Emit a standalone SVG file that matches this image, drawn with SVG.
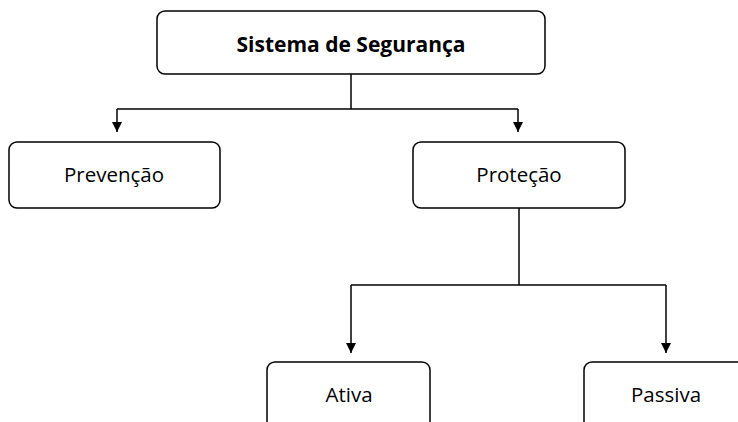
<svg xmlns="http://www.w3.org/2000/svg" width="738" height="422" viewBox="0 0 738 422">
<style>
.box{fill:#fff;stroke:#000;stroke-width:1.5}
.lbl{font-family:"Open Sans","Liberation Sans",sans-serif;font-size:20.5px;fill:#000;text-anchor:middle}
.b{font-weight:bold;font-size:21px}
.con{fill:none;stroke:#000;stroke-width:1.5}
</style>
<defs>
<marker id="arr" markerWidth="10" markerHeight="10" refX="10" refY="5" orient="auto" markerUnits="userSpaceOnUse" viewBox="0 0 10 10">
<path d="M0,0 L10,5 L0,10 Z" fill="#000"/>
</marker>
</defs>
<g id="connectors">
<path class="con" d="M351,74 V109"/>
<path class="con" d="M117,109 H518"/>
<path class="con" d="M117,109 V132" marker-end="url(#arr)"/>
<path class="con" d="M518,109 V132" marker-end="url(#arr)"/>
<path class="con" d="M519,208 V285"/>
<path class="con" d="M351,285 H666"/>
<path class="con" d="M351,285 V353" marker-end="url(#arr)"/>
<path class="con" d="M666,285 V353" marker-end="url(#arr)"/>
</g>
<g id="sistema">
<rect class="box" x="157" y="11" width="388" height="63" rx="8"/>
<text class="lbl b" x="351" y="52">Sistema de Segurança</text>
</g>
<g id="prevencao">
<rect class="box" x="9" y="142" width="211" height="66" rx="8"/>
<text class="lbl" x="114" y="182">Prevenção</text>
</g>
<g id="protecao">
<rect class="box" x="413" y="142" width="212" height="66" rx="8"/>
<text class="lbl" x="519" y="182">Proteção</text>
</g>
<g id="ativa">
<rect class="box" x="267" y="362" width="163" height="80" rx="8"/>
<text class="lbl" x="349" y="402">Ativa</text>
</g>
<g id="passiva">
<rect class="box" x="584" y="362" width="170" height="80" rx="8"/>
<text class="lbl" x="666" y="402">Passiva</text>
</g>
</svg>
